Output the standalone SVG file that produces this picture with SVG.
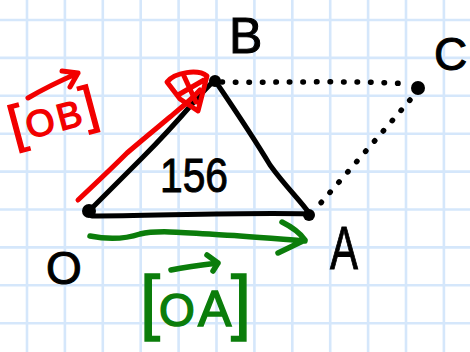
<svg xmlns="http://www.w3.org/2000/svg" width="470" height="352" viewBox="0 0 470 352">
<style>
.grid{stroke:#d5e7fb;stroke-width:2.6;fill:none}
.edge{stroke:#000;stroke-width:5;fill:none;stroke-linecap:round;stroke-linejoin:round}
.dot{stroke:#000;stroke-width:5.5;fill:none;stroke-linecap:round;stroke-dasharray:0.5 13}
.red{stroke:#f20000;stroke-width:5;fill:none;stroke-linecap:round;stroke-linejoin:round}
.green{stroke:#0b7d0b;stroke-width:5.5;fill:none;stroke-linecap:round;stroke-linejoin:round}
.lbl{font-family:"Liberation Sans","DejaVu Sans",sans-serif;fill:#000;stroke:#000;stroke-width:1}
.hand{font-family:"Liberation Sans","DejaVu Sans",sans-serif;stroke-width:1.5}
.pt{fill:#000}
</style>
<rect width="470" height="352" fill="#fff"/>
<path class="grid" d="M27,0V352M64.9,0V352M102.8,0V352M140.7,0V352M178.6,0V352M216.5,0V352M254.4,0V352M292.3,0V352M330.2,0V352M368.1,0V352M406,0V352M443.9,0V352M0,20H470M0,57.9H470M0,95.8H470M0,133.7H470M0,171.6H470M0,209.5H470M0,247.4H470M0,285.3H470M0,323.2H470"/>
<g id="connectors">
<path class="edge" d="M92,208 C110,190 128,172 143,157 C160,140 180,118 193,103 C200,95 207,87 214,81"/>
<path class="edge" d="M216,82 C235,110 255,140 270,165 C285,186 300,200 309,213"/>
<path class="edge" d="M309,214 C250,212 150,216 92,216"/>
<path class="dot" d="M222,82 C280,83 350,80 410,84"/>
<path class="dot" d="M410,100 C380,135 345,175 313,212"/>
<path class="red" d="M78,200 C95,184 112,168 127,153 C142,140 158,127 170,117 C182,107 192,99 200,90"/>
<path class="red" d="M167,82 C175,72 198,69 207,76 L198,111 L180,99 Z M178,95 L204,80 M184,76 L196,102"/>
<path class="green" d="M90,236 C110,240 125,239 140,234 C160,229 200,234 240,236 C270,238 290,240 305,241 M282,222 Q298,230 305,240 L278,253"/>
</g>
<g id="O"><circle class="pt" cx="89" cy="211" r="7"/><text class="lbl" x="46" y="284" font-size="46">O</text></g>
<g id="B"><circle class="pt" cx="215" cy="81" r="6"/><text class="lbl" x="229" y="53" font-size="50">B</text></g>
<g id="A"><circle class="pt" cx="309" cy="215" r="6"/><text class="lbl" x="330" y="269" font-size="62" textLength="28" lengthAdjust="spacingAndGlyphs">A</text></g>
<g id="C"><circle class="pt" cx="418" cy="88" r="7"/><text class="lbl" x="434" y="70" font-size="46">C</text></g>
<g id="area"><text class="lbl" x="160" y="192" font-size="48" textLength="68" lengthAdjust="spacingAndGlyphs">156</text></g>
<g id="vecOB">
<text class="hand" y="131" fill="#f20000" stroke="#f20000" transform="rotate(-15 58 118)"><tspan x="9" font-size="52">[</tspan><tspan x="25" font-size="37">O</tspan><tspan x="57" font-size="37">B</tspan><tspan x="84" font-size="52">]</tspan></text>
<path class="red" d="M28,98 C45,88 62,80 78,73 M62,71 L78,73 L70,87"/>
</g>
<g id="vecOA">
<text class="hand" y="326" fill="#0b7d0b" stroke="#0b7d0b"><tspan x="140" font-size="72">[</tspan><tspan x="159" font-size="46">O</tspan><tspan x="198" font-size="50">A</tspan><tspan x="231" font-size="72">]</tspan></text>
<path class="green" d="M171,270 C185,267 200,265 218,263 M207,255 L218,263 L213,271"/>
</g>
</svg>
